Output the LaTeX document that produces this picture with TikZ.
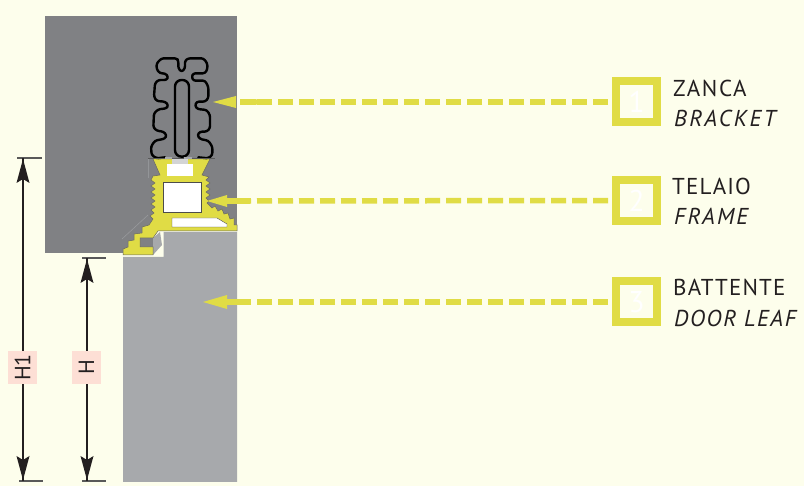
\documentclass[tikz,border=0pt]{standalone}
\usepackage{fontspec}
\setmainfont[LetterSpace=5]{PT Sans}
\newfontfamily\plainfont{PT Sans}
\definecolor{bgc}{HTML}{FDFEEC}
\definecolor{wallc}{HTML}{808184}
\definecolor{leafc}{HTML}{A7A9AC}
\definecolor{yel}{HTML}{E0DC45}
\definecolor{dimc}{HTML}{231F20}
\definecolor{pinkc}{HTML}{FDDFD5}
\tikzset{
  numbox/.style={draw=yel,line width=8pt,minimum size=41pt,inner sep=0pt,text=white,font=\plainfont\fontsize{30}{32}\selectfont},
  lead/.style={yel,line width=5.5pt,dash pattern=on 15pt off 6pt,dash phase=17pt},
  lab/.style={anchor=base west,text=dimc,font=\fontsize{23}{25}\selectfont,inner sep=0pt},
  dim/.style={dimc,line width=1.1pt},
  tick/.style={draw=black!65,line width=1.1pt},
  dimlab/.style={fill=pinkc,text=dimc,rotate=90,font=\plainfont\fontsize{22}{24}\selectfont,minimum width=33pt,minimum height=29pt,inner sep=0pt},
}
\begin{document}
\begin{tikzpicture}[x=1pt,y=-1pt]
\useasboundingbox (0,0) rectangle (804,486);
\fill[bgc] (0,0) rectangle (804,486);
% wall and door leaf
\fill[wallc] (45,16) rectangle (237,253);
\fill[bgc] (123,253) rectangle (165,258);
\fill[bgc] (153,232) rectangle (165,258);
\fill[bgc] (153,230) rectangle (237,232);
\fill[leafc] (123,257) -- (163.5,257) -- (163.5,232) -- (237,232) -- (237,482) -- (123,482) -- cycle;
\fill[leafc] (153,238) -- (160,232) -- (162,245) -- (153,255) -- cycle;
\draw[leafc!70!wallc,line width=0.5pt] (148,215) -- (122,239);
\draw[leafc!50!wallc,line width=0.4pt] (148,159) -- (148,178);
% frame profile
\fill[yel,draw=black!60,line width=0.5pt] (153,159) -- (210,159) -- (202,175)
 -- (209,177) -- (206,180) -- (210,183) -- (206,186) -- (210,189) -- (206,192) -- (210,195) -- (206,198) -- (209,201) -- (207,203)
 -- (212,208) -- (215,206) -- (218,211) -- (222,209) -- (224,214) -- (228,213) -- (230,219) -- (234,218) -- (234,225) -- (237,225) -- (237,231)
 -- (158,231) -- (153,238) -- (140,238) -- (140,247) -- (153,247) -- (153,255) -- (123,255) -- (123,249) -- (128,247) -- (128,241) -- (134,240) -- (134,234) -- (142,233) -- (142,227) -- (149,225) -- (153,219)
 -- (150,216) -- (154,213) -- (151,210) -- (155,207) -- (151,204) -- (155,201) -- (151,198) -- (155,195) -- (151,192) -- (155,189) -- (151,186) -- (155,183) -- (151,180) -- (153,176) -- (160,175) -- cycle;
\fill[white] (167,164) rectangle (193,176);
\fill[leafc!50!white] (172,159) rectangle (188,164);
\fill[white] (163,182) rectangle (201,212);
\draw[black!70,line width=0.6pt] (163,182) rectangle (201,212);
\fill[white,draw=black!70,line width=0.4pt] (172,218) -- (217,218) -- (227,224) -- (227,227) -- (172,227) -- cycle;
% bracket
\begin{scope}[shift={(110,40)},x=0.3333pt,y=-0.3333pt]
\draw[black,line width=2.4pt,line join=round,line cap=round,rounded corners=2.2pt]
 (165,352) -- (140,355) -- (125,345) -- (123,320) -- (135,302) -- (165,296) -- (170,285) -- (160,275) -- (140,272) -- (130,262) -- (132,220) -- (145,208) -- (170,205) -- (175,195) -- (165,185) -- (140,183) -- (132,170) -- (135,130) -- (145,120) -- (170,120) -- (175,110) -- (165,100) -- (150,100) -- (140,88) -- (140,70) -- (155,55) -- (200,55) -- (205,62) -- (205,85) -- (215,96) -- (225,85) -- (225,62) -- (235,55) -- (280,55) -- (292,70) -- (292,88) -- (285,100) -- (250,100) -- (245,110) -- (250,122) -- (285,122) -- (295,140) -- (295,175) -- (285,185) -- (260,185) -- (255,197) -- (262,207) -- (290,210) -- (300,225) -- (300,265) -- (290,275) -- (270,275) -- (262,285) -- (270,297) -- (295,302) -- (307,320) -- (307,345) -- (295,355) -- (265,352);
\draw[black,line width=2.4pt,rounded corners=6.5pt] (195,120) rectangle (237,350);
\end{scope}
\draw[black!65,line width=0.7pt] (148,158.5) -- (215,158.5);
\fill[leafc] (165,157) rectangle (172,159);
\fill[leafc] (184,157) rectangle (192,159);
% dimensions
\coordinate (t1) at (23,158);
\coordinate (t2) at (87,258);
\coordinate (b1) at (23,481);
\coordinate (b2) at (87,481);
\draw[tick] (17,158) -- (42,158);
\draw[tick] (82,258) -- (106,258);
\draw[tick] (19,481) -- (43,481);
\draw[tick] (82,481) -- (106,481);
\draw[dim] (t1) -- (b1);
\draw[dim] (t2) -- (b2);
\foreach \x/\y in {23/159,87/259} \fill[dimc] (\x,\y) -- ++(6.5,24) -- ++(-6.5,-4) -- ++(-6.5,4) -- cycle;
\foreach \x in {23,87} \fill[dimc] (\x,480) -- ++(6.5,-24) -- ++(-6.5,4) -- ++(-6.5,-4) -- cycle;
\node[dimlab] (h1) at (22.5,367.5) {H1};
\node[dimlab] (h) at (86.5,367.5) {H};
% call-outs
\node[numbox] (n1) at (636.5,102) {1};
\node[numbox] (n2) at (636.5,200.5) {2};
\node[numbox] (n3) at (636.5,302) {3};
\coordinate (e1) at (240,102);
\coordinate (e2) at (245,201);
\coordinate (e3) at (238,302);
\draw[lead] (n1.west) -- (e1);
\draw[lead] (n2.west) -- (e2);
\draw[lead] (n3.west) -- (e3);
\fill[yel] (213,102) -- (236,96) -- (236,108) -- cycle;
\fill[yel,rounded corners=2pt] (240,99.2) rectangle (258,104.8);
\fill[yel] (207,201) -- (227,195) -- (227,198.2) -- (250,198.2) -- (250,203.8) -- (227,203.8) -- (227,207) -- cycle;
\fill[yel] (203,302) -- (227,295) -- (227,299.2) -- (238,299.2) -- (238,304.8) -- (227,304.8) -- (227,309) -- cycle;
\node[lab] (l1) at (673,97) {\addfontfeature{LetterSpace=7}ZANCA};
\node[lab] (l1b) at (674,127) {\itshape\addfontfeature{LetterSpace=10.5}BRACKET};
\node[lab] (l2) at (672,195) {TELAIO};
\node[lab] (l2b) at (674,225) {\itshape\addfontfeature{LetterSpace=9}FRAME};
\node[lab] (l3) at (673,296) {BATTENTE};
\node[lab] (l3b) at (674,327) {\itshape\addfontfeature{LetterSpace=7}DOOR LEAF};
\end{tikzpicture}
\end{document}
